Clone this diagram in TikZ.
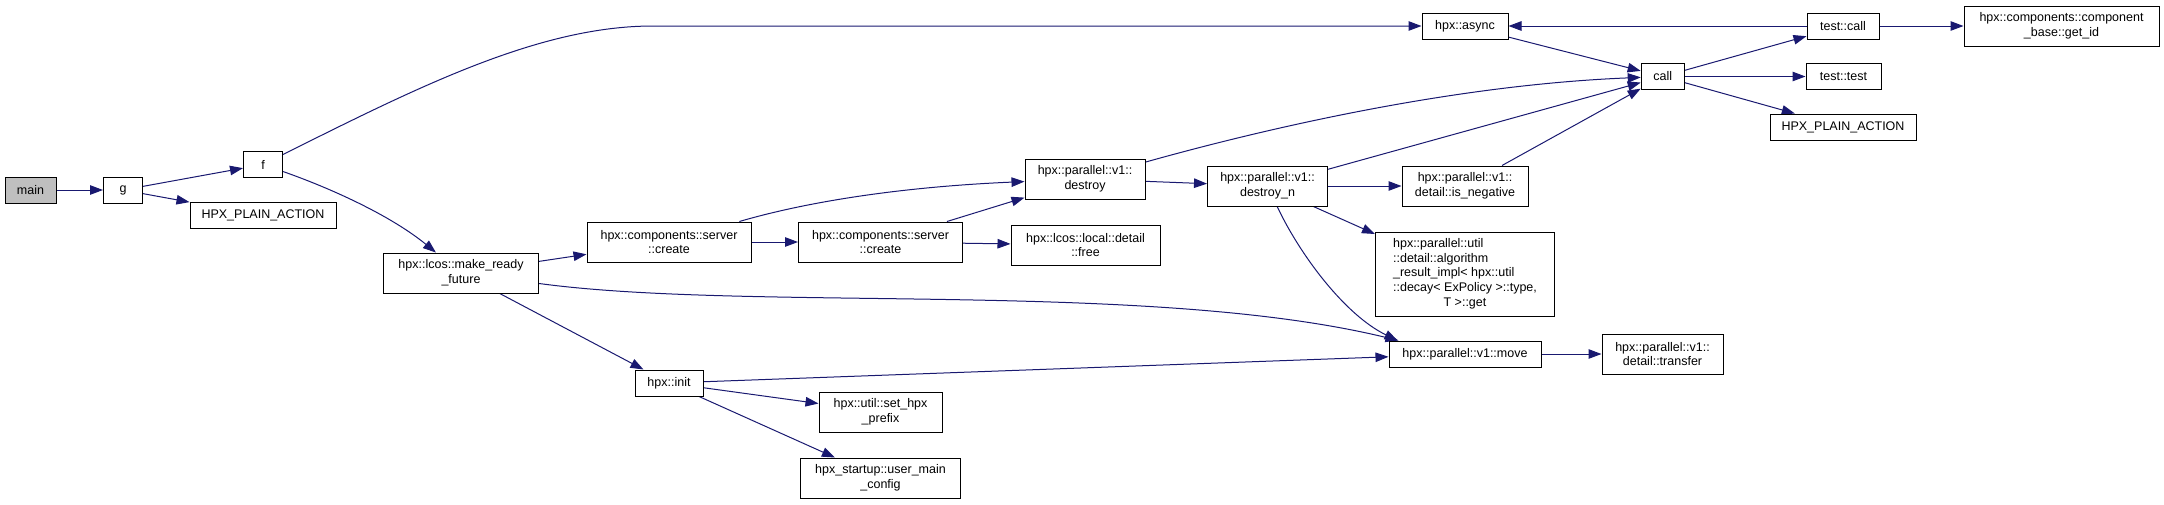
\documentclass[tikz,border=0pt]{standalone}
\usepackage{fontspec}
\setmainfont{Liberation Sans}
\usepackage{tikz}
\usetikzlibrary{arrows.meta,positioning,calc,backgrounds}
\definecolor{edgeblue}{HTML}{191970}
\definecolor{rootgray}{HTML}{BFBFBF}
\newcommand{\cgfont}{\fontsize{12.5}{14.7}\selectfont}
\tikzset{
  >={Triangle[length=13pt,width=9.5pt]},
  % noder
  cg/.style={draw=black,fill=white,line width=1pt,inner xsep=8pt,inner ysep=2pt,
             minimum height=26pt,font=\cgfont,align=center},
  cgtwo/.style={cg,minimum height=40pt},
  cgroot/.style={fill=rootgray},
  % kanter
  ce/.style={->,draw=edgeblue,line width=1pt},
}
\begin{document}
\begin{tikzpicture}[x=1pt,y=-1pt]
  \useasboundingbox (0,0) rectangle (2164,504);
  \node[cg,cgroot,minimum width=51pt] (main) at (30.5,190) {main};
  \node[cg,minimum width=39pt] (g) at (123,190) {g};
  \node[cg,minimum width=39pt] (f) at (263,164.5) {f};
  \node[cg,minimum width=146pt] (hpa1) at (263,215.5) {HPX\_PLAIN\_ACTION};
  \node[cgtwo,minimum width=155pt] (mrf) at (461,273) {hpx::lcos::make\_ready\\\_future};
  \node[cgtwo,minimum width=164pt] (create1) at (669,242) {hpx::components::server\\::create};
  \node[cgtwo,minimum width=164pt] (create2) at (880.5,242) {hpx::components::server\\::create};
  \node[cgtwo,minimum width=120pt] (destroy) at (1085,179) {hpx::parallel::v1::\\destroy};
  \node[cgtwo,minimum width=149pt] (free) at (1085.5,245) {hpx::lcos::local::detail\\::free};
  \node[cg,minimum width=68pt] (init) at (669,383) {hpx::init};
  \node[cgtwo,minimum width=123pt] (prefix) at (880.5,412) {hpx::util::set\_hpx\\\_prefix};
  \node[cgtwo,minimum width=160pt] (umc) at (880.5,478) {hpx\_startup::user\_main\\\_config};
  \node[cg,minimum width=86pt] (async) at (1465,26) {hpx::async};
  \node[cgtwo,minimum width=120pt] (destroyn) at (1267.5,186) {hpx::parallel::v1::\\destroy\_n};
  \node[cgtwo,minimum width=126pt] (isneg) at (1465,186) {hpx::parallel::v1::\\detail::is\_negative};
  \node[cg,minimum width=179pt,minimum height=84pt] (algo) at (1465,274)
    {\begin{tabular}{@{}l@{}}hpx::parallel::util\\::detail::algorithm\\\_result\_impl< hpx::util\\::decay< ExPolicy >::type,\\\multicolumn{1}{@{}c@{}}{T >::get}\end{tabular}};
  \node[cg,minimum width=152pt] (move) at (1465,354) {hpx::parallel::v1::move};
  \node[cgtwo,minimum width=121pt] (transfer) at (1662.5,354) {hpx::parallel::v1::\\detail::transfer};
  \node[cg,minimum width=43pt] (call) at (1662.7,76.5) {call};
  \node[cg,minimum width=72pt] (tcall) at (1843,26) {test::call};
  \node[cg,minimum width=75pt] (ttest) at (1843.5,76.5) {test::test};
  \node[cg,minimum width=146pt] (hpa2) at (1843,127) {HPX\_PLAIN\_ACTION};
  \node[cgtwo,minimum width=195pt] (getid) at (2061.5,26) {hpx::components::component\\\_base::get\_id};
  \begin{scope}[on background layer]
  \draw[ce] (main) -- (g);
  \draw[ce] (g) -- (f);
  \draw[ce] (g) -- (hpa1);
  \draw[ce] (f) .. controls (420,86) and (540,26) .. (653,26) -- (async);
  \draw[ce] (f) .. controls (330,188) and (390,215) .. (mrf);
  \draw[ce] (mrf) -- (create1);
  \draw[ce] (mrf) .. controls (750,312) and (1150,280) .. ([xshift=10pt]move.north west);
  \draw[ce] (mrf) -- (init);
  \draw[ce] (create1) .. controls (820,198) and (920,186) .. (destroy);
  \draw[ce] (create1) -- (create2);
  \draw[ce] (create2) -- (destroy);
  \draw[ce] (create2) -- (free);
  \draw[ce] (destroy) .. controls (1260,130) and (1450,85) .. (call);
  \draw[ce] (destroy) -- (destroyn);
  \draw[ce] (destroyn) -- (call);
  \draw[ce] (destroyn) -- (isneg);
  \draw[ce] (destroyn) -- (algo);
  \draw[ce] (destroyn) .. controls (1300,255) and (1345,315) .. ([xshift=9pt]move.north west);
  \draw[ce] (isneg) -- (call);
  \draw[ce] (async) -- (call);
  \draw[ce] (tcall) -- (async);
  \draw[ce] (call) -- (tcall);
  \draw[ce] (call) -- (ttest);
  \draw[ce] (call) -- (hpa2);
  \draw[ce] (tcall) -- (getid);
  \draw[ce] (init) -- (move);
  \draw[ce] (init) -- (prefix);
  \draw[ce] (init) -- (umc);
  \draw[ce] (move) -- (transfer);
  \end{scope}
\end{tikzpicture}
\end{document}
